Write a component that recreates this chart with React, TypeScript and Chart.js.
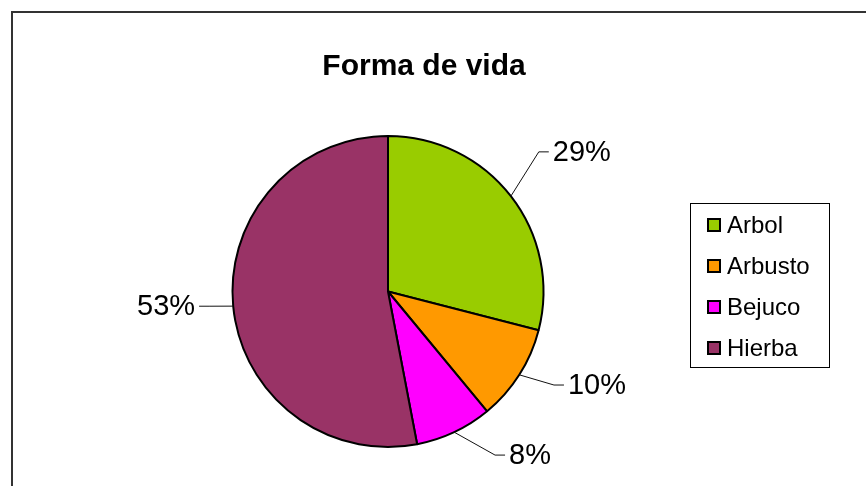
import React, { useEffect, useRef } from "react";
import { Chart, registerables } from "chart.js";

Chart.register(...registerables);

const chartTitle = "Forma de vida";
const categories = ["Arbol", "Arbusto", "Bejuco", "Hierba"];
const values = [29, 10, 8, 53];
const sliceColors = ["#99CC00", "#FF9900", "#FF00FF", "#993366"];

// leader-line elbow adjustments per slice (degrees, px beyond the rim)
const labelAngleShift = [-5, -3, -8, 0.7];
const labelRadiusExtra = [50, 35, 40, 24];

const FONT = "'Liberation Sans', Arial, Helvetica, sans-serif";

const decorPlugin = {
  id: "decor",
  beforeDraw(chart: any) {
    const ctx = chart.ctx;
    ctx.save();
    ctx.fillStyle = "#ffffff";
    ctx.fillRect(0, 0, chart.width, chart.height);
    ctx.strokeStyle = "#333333";
    ctx.lineWidth = 2;
    ctx.strokeRect(12, 12, chart.width + 40, chart.height + 40);
    ctx.restore();
  },
  afterDraw(chart: any) {
    const ctx = chart.ctx;
    ctx.save();
    // title
    ctx.fillStyle = "#000";
    ctx.font = `bold 30px ${FONT}`;
    ctx.textAlign = "center";
    ctx.textBaseline = "alphabetic";
    ctx.fillText(chartTitle, 424, 75);

    // percent labels with leader lines
    const meta = chart.getDatasetMeta(0);
    const data = chart.data.datasets[0].data as number[];
    const total = data.reduce((a, b) => a + b, 0);
    ctx.font = `29px ${FONT}`;
    meta.data.forEach((arc: any, i: number) => {
      const p = arc.getProps(["x", "y", "startAngle", "endAngle", "outerRadius"], true);
      const mid = (p.startAngle + p.endAngle) / 2;
      const sx = p.x + Math.cos(mid) * p.outerRadius;
      const sy = p.y + Math.sin(mid) * p.outerRadius;
      const ea = mid + (labelAngleShift[i] * Math.PI) / 180;
      const er = p.outerRadius + labelRadiusExtra[i];
      const ex = p.x + Math.cos(ea) * er;
      const ey = p.y + Math.sin(ea) * er;
      const dir = Math.cos(ea) >= 0 ? 1 : -1;
      const hx = ex + dir * 10;
      ctx.strokeStyle = "#111";
      ctx.lineWidth = 1;
      ctx.beginPath();
      ctx.moveTo(sx, sy);
      ctx.lineTo(ex, ey);
      ctx.lineTo(hx, ey);
      ctx.stroke();
      const pct = Math.round((data[i] / total) * 100) + "%";
      ctx.fillStyle = "#000";
      ctx.textAlign = dir > 0 ? "left" : "right";
      ctx.textBaseline = "middle";
      ctx.fillText(pct, hx + dir * 4, ey + 1);
    });

    // legend
    const lx = 690, ly = 203, lw = 139, lh = 164;
    ctx.strokeStyle = "#000";
    ctx.lineWidth = 1;
    ctx.strokeRect(lx + 0.5, ly + 0.5, lw, lh);
    ctx.font = `24px ${FONT}`;
    ctx.textAlign = "left";
    ctx.textBaseline = "middle";
    const labels = chart.data.labels as string[];
    const colors = chart.data.datasets[0].backgroundColor as string[];
    labels.forEach((lab, i) => {
      const cy = ly + 22 + i * 41;
      ctx.fillStyle = colors[i];
      ctx.fillRect(708, cy - 6, 12, 12);
      ctx.strokeStyle = "#000";
      ctx.lineWidth = 2;
      ctx.strokeRect(708, cy - 6, 12, 12);
      ctx.fillStyle = "#000";
      ctx.fillText(lab, 727, cy + 1);
    });
    ctx.restore();
  },
};

export default function App() {
  const ref = useRef<HTMLCanvasElement | null>(null);
  useEffect(() => {
    if (!ref.current) return;
    const chart = new Chart(ref.current, {
      type: "pie",
      data: {
        labels: categories,
        datasets: [
          {
            data: values,
            backgroundColor: sliceColors,
            borderColor: "#000000",
            borderWidth: 2,
          },
        ],
      },
      options: {
        responsive: false,
        animation: false,
        layout: { padding: { left: 231.5, right: 321.5, top: 135, bottom: 38 } },
        plugins: {
          legend: { display: false },
          title: { display: false },
          tooltip: { enabled: false },
        },
      },
      plugins: [decorPlugin],
    });
    return () => chart.destroy();
  }, []);
  return (
    <div style={{ position: "absolute", left: 0, top: 0, width: 866, height: 486 }}>
      <canvas ref={ref} width={866} height={486} />
    </div>
  );
}
